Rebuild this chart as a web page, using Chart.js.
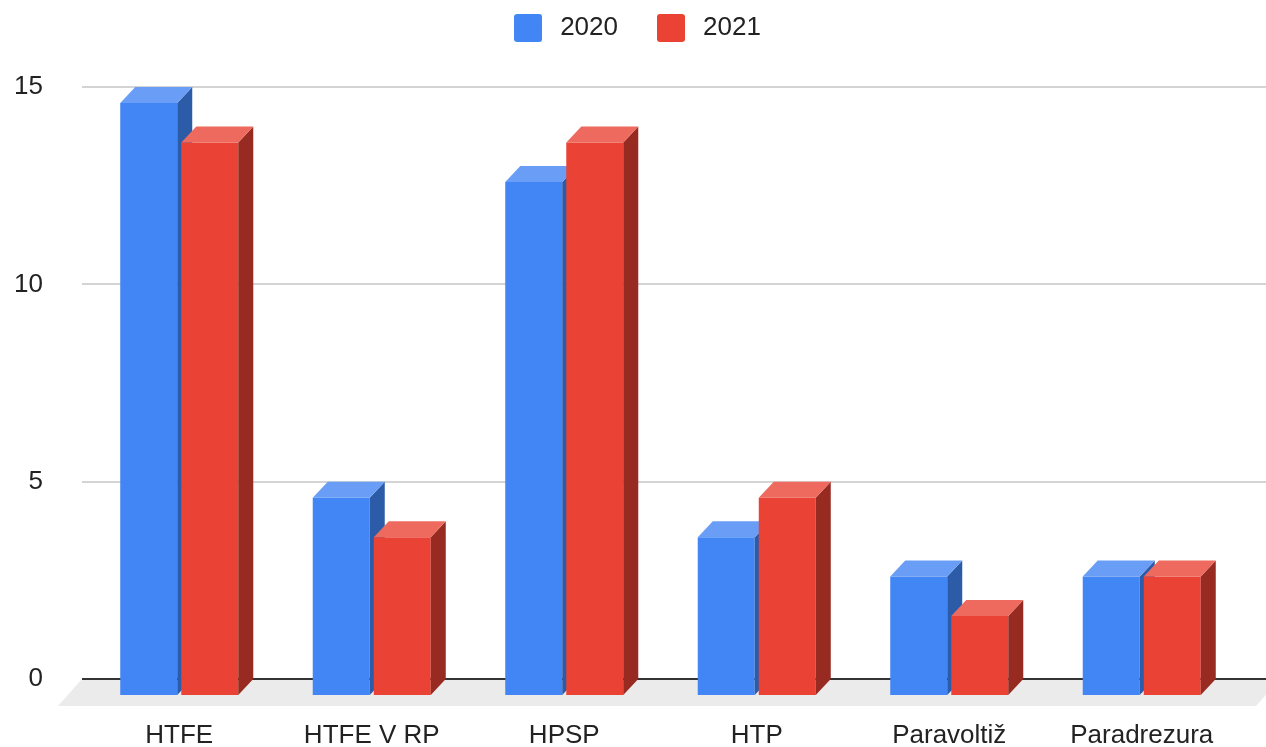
<!DOCTYPE html>
<html><head><meta charset="utf-8">
<script src="https://cdn.jsdelivr.net/npm/chart.js@4.4.1/dist/chart.umd.min.js"></script>
<style>html,body{margin:0;padding:0;background:#fff;overflow:hidden}#wrap{width:1266px;height:747px}</style>
</head><body><div id="wrap"><canvas id="c" width="1266" height="747"></canvas></div>
<script>
const categories = ['HTFE', 'HTFE V RP', 'HPSP', 'HTP', 'Paravoltiž', 'Paradrezura'];
const seriesNames = ['2020', '2021'];
const values2020 = [15, 5, 13, 4, 3, 3];
const values2021 = [14, 4, 14, 5, 2, 3];
const yTicks = [0, 5, 10, 15];

const DX = 15, DY = 16;      // bar depth
const FDX = 24, FDY = 27;    // floor depth
const faces = [
  {front: '#4285f4', side: '#2c5ba8', top: '#6a9ef6'},
  {front: '#ea4335', side: '#972a21', top: '#ee6a5f'}
];

function poly(ctx, pts, color) {
  ctx.fillStyle = color;
  ctx.beginPath();
  ctx.moveTo(pts[0][0], pts[0][1]);
  for (let i = 1; i < pts.length; i++) ctx.lineTo(pts[i][0], pts[i][1]);
  ctx.closePath();
  ctx.fill();
}

function swatch(color) {
  const c = document.createElement('canvas');
  c.width = 28; c.height = 28;
  const g = c.getContext('2d');
  g.fillStyle = color;
  g.beginPath();
  if (g.roundRect) g.roundRect(0, 0, 28, 28, 3); else g.rect(0, 0, 28, 28);
  g.fill();
  return c;
}
const swatches = faces.map(f => swatch(f.front));

const bars3d = {
  id: 'bars3d',
  beforeLayout(chart) {
    const lg = chart.legend;
    if (lg && !lg._patched) {
      const orig = lg.fit;
      lg.fit = function () { orig.call(this); this.height = 87; };
      lg._patched = true;
    }
  },
  afterLayout(chart) {
    if (chart.legend) { chart.legend.top = -19; chart.legend.bottom = 68; }
  },
  beforeDatasetsDraw(chart) {
    const {ctx, chartArea: a, scales: {y}} = chart;
    const y0 = y.getPixelForValue(0);
    const left = a.left - DX - 1;
    ctx.save();
    poly(ctx, [[left, y0], [a.right + FDY, y0], [a.right + FDY - FDX, y0 + FDY], [left - FDX, y0 + FDY]], '#ebebeb');
    yTicks.forEach(v => {
      const py = Math.round(y.getPixelForValue(v));
      ctx.strokeStyle = v === 0 ? '#333333' : '#d4d4d4';
      ctx.lineWidth = 2;
      ctx.beginPath();
      ctx.moveTo(left, py);
      ctx.lineTo(chart.width, py);
      ctx.stroke();
    });
    ctx.restore();
  },
  beforeDatasetDraw() { return false; },
  afterDatasetsDraw(chart) {
    const ctx = chart.ctx;
    const metas = chart.data.datasets.map((d, i) => chart.getDatasetMeta(i));
    ctx.save();
    for (let j = 0; j < categories.length; j++) {
      metas.forEach((meta, d) => {
        const el = meta.data[j];
        const {x, y, base, width} = el.getProps(['x', 'y', 'base', 'width'], true);
        const l = x - width / 2, r = x + width / 2;
        const c = faces[d];
        poly(ctx, [[l - DX, y + DY], [r - DX, y + DY], [r - DX, base + DY], [l - DX, base + DY]], c.front);
        poly(ctx, [[r - DX, y + DY], [r, y], [r, base], [r - DX, base + DY]], c.side);
        poly(ctx, [[l - DX, y + DY], [l, y], [r, y], [r - DX, y + DY]], c.top);
      });
    }
    ctx.restore();
  }
};

Chart.defaults.font.family = "'Liberation Sans', Arial, sans-serif";
Chart.defaults.font.size = 26;
Chart.defaults.color = '#222222';

new Chart(document.getElementById('c'), {
  type: 'bar',
  data: {
    labels: categories,
    datasets: [
      {label: seriesNames[0], data: values2020, backgroundColor: faces[0].front, borderWidth: 0},
      {label: seriesNames[1], data: values2021, backgroundColor: faces[1].front, borderWidth: 0}
    ]
  },
  options: {
    responsive: false,
    animation: false,
    layout: {padding: {left: 4, right: 0, top: 0, bottom: 0}},
    categoryPercentage: 0.634,
    barPercentage: 0.934,
    plugins: {
      legend: {
        position: 'top',
        labels: {
          usePointStyle: true, pointStyleWidth: 38, boxHeight: 28, padding: 34,
          font: {size: 26}, color: '#222222',
          generateLabels(chart) {
            return Chart.defaults.plugins.legend.labels.generateLabels(chart)
              .map((it, i) => Object.assign(it, {pointStyle: swatches[i]}));
          }
        }
      },
      tooltip: {enabled: false}
    },
    scales: {
      x: {
        grid: {display: false, drawTicks: false},
        border: {display: false},
        ticks: {labelOffset: -DX, padding: 41, autoSkip: false, maxRotation: 0, font: {size: 26}},
        afterFit(s) { s.height = 68; s.paddingLeft = 0; s.paddingRight = 13; }
      },
      y: {
        min: 0, max: 15,
        grid: {display: false, drawTicks: false},
        border: {display: false},
        ticks: {padding: 55, font: {size: 26}},
        afterBuildTicks(s) { s.ticks = yTicks.map(v => ({value: v})); },
        afterFit(s) { s.width = 94; s.paddingTop = 0; s.paddingBottom = 0; }
      }
    }
  },
  plugins: [bars3d]
});
</script>
</body></html>
